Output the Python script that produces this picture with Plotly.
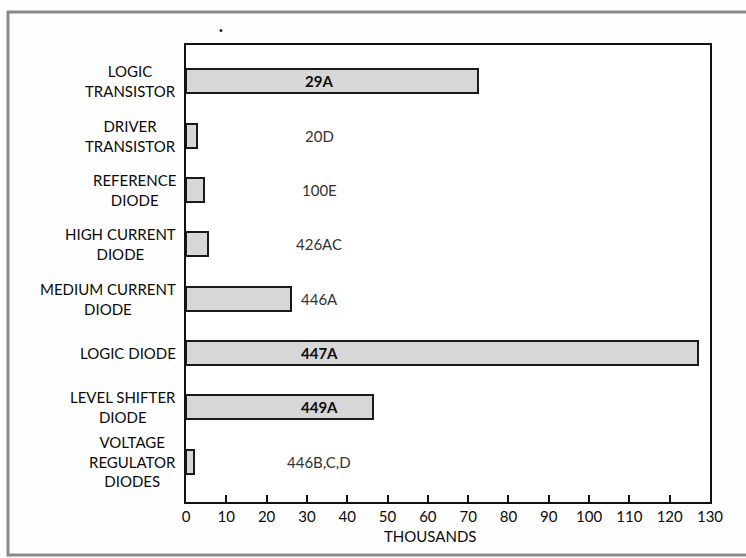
import plotly.graph_objects as go

categories = [
    "LOGIC<br>TRANSISTOR",
    "DRIVER<br>TRANSISTOR",
    "REFERENCE<br>DIODE",
    "HIGH CURRENT<br>DIODE",
    "MEDIUM CURRENT<br>DIODE",
    "LOGIC DIODE",
    "LEVEL SHIFTER<br>DIODE",
    "VOLTAGE<br>REGULATOR<br>DIODES",
]
values = [72.5, 2.7, 4.5, 5.5, 26, 127, 46.5, 2]
codes = ["29A", "20D", "100E", "426AC", "446A", "447A", "449A", "446B,C,D"]
code_bold = [True, False, False, False, False, True, True, False]
x_ticks = list(range(0, 131, 10))
x_title = "THOUSANDS"

FONT = "Lato, 'Open Sans', sans-serif"
FS = 15
positions = list(range(len(categories)))

fig = go.Figure()
fig.add_trace(go.Bar(
    x=values, y=positions, orientation="h", width=0.44,
    marker=dict(color="#d7d7d7", line=dict(color="#1a1a1a", width=2)),
    hoverinfo="x",
))

annotations = []
for p, c in zip(positions, categories):
    annotations.append(dict(
        x=-0.016, xref="paper", y=p, yref="y", text=c, showarrow=False,
        xanchor="right", yanchor="middle", align="center",
        font=dict(family=FONT, size=FS, color="#0a0a0a"),
    ))
for p, c, b in zip(positions, codes, code_bold):
    annotations.append(dict(
        x=33, xref="x", y=p, yref="y",
        text=f"<b>{c}</b>" if b else c, showarrow=False,
        xanchor="center", yanchor="middle",
        font=dict(family=FONT, size=FS, color="#0a0a0a" if b else "#333"),
    ))
annotations.append(dict(
    x=60.5, xref="x", y=-0.05, yref="paper", text=x_title, showarrow=False,
    xanchor="center", yanchor="top",
    font=dict(family=FONT, size=FS, color="#0a0a0a"),
))

W, H = 746, 558
L, R, T, B = 186, 710, 45, 502
def px(x):
    return (x - L) / (R - L)
def py(y):
    return (B - y) / (B - T)

shapes = [
    dict(type="rect", xref="paper", yref="paper",
         x0=px(8), x1=px(760), y0=py(555), y1=py(12),
         line=dict(color="#8a8a8a", width=3), layer="below"),
    dict(type="circle", xref="paper", yref="paper",
         x0=px(219.5), x1=px(222.5), y0=py(32), y1=py(29),
         fillcolor="#222", line=dict(width=0)),
]

fig.update_layout(
    width=W, height=H,
    margin=dict(l=L, r=W - R, t=T, b=H - B),
    paper_bgcolor="#fefefe", plot_bgcolor="#ffffff",
    showlegend=False, bargap=0,
    annotations=annotations, shapes=shapes,
    font=dict(family=FONT, size=FS, color="#0a0a0a"),
    xaxis=dict(
        range=[0, 130], tickvals=x_ticks, ticks="inside", ticklen=7,
        tickwidth=1.5, tickcolor="#111", showgrid=False, zeroline=False,
        showline=True, linecolor="#111", linewidth=2, mirror=True,
        tickfont=dict(family=FONT, size=FS, color="#0a0a0a"),
    ),
    yaxis=dict(
        range=[7.74, -0.67], showticklabels=False, ticks="",
        showgrid=False, zeroline=False,
        showline=True, linecolor="#111", linewidth=2, mirror=True,
    ),
)

fig.write_html(
    "out.html",
    config={"displayModeBar": False},
    post_script="document.body.style.margin='0';document.body.style.overflow='hidden';",
)
